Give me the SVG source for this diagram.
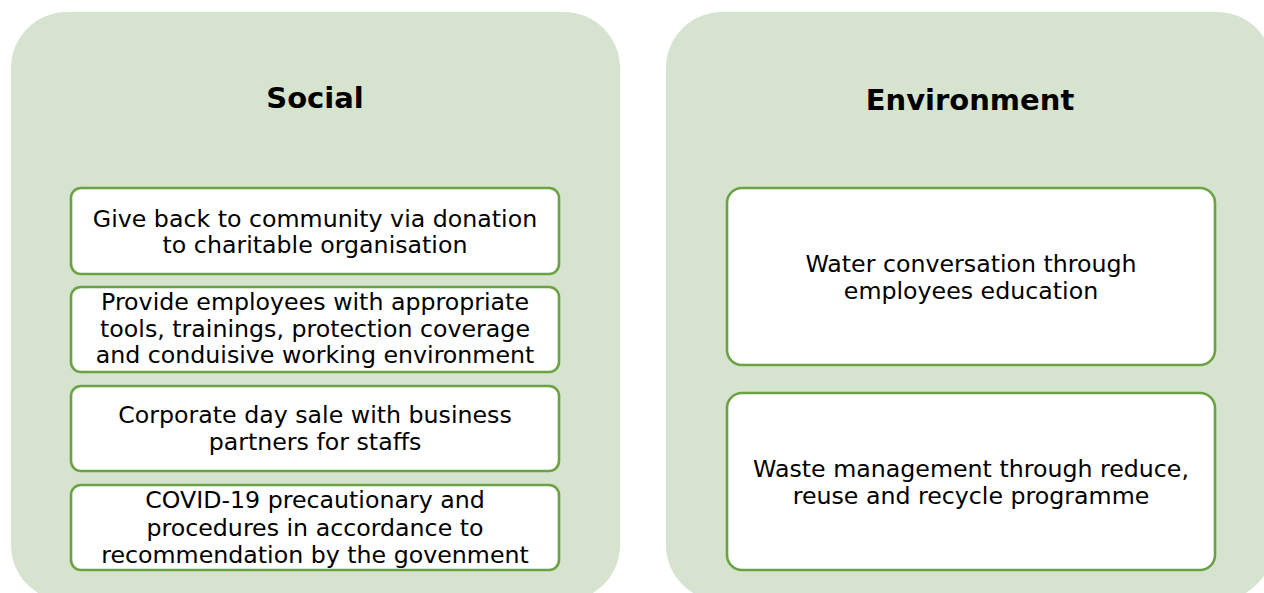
<svg xmlns="http://www.w3.org/2000/svg" width="1264" height="593" viewBox="0 0 1264 593">
  <style>
    .panel { fill: #d6e3cf; stroke: none; }
    .item { fill: #ffffff; stroke: #6aa244; stroke-width: 2.6; }
    .title { font-family: "DejaVu Sans", "Liberation Sans", sans-serif; font-weight: bold; font-size: 29px; fill: #000000; text-anchor: middle; }
    .label { font-family: "DejaVu Sans", "Liberation Sans", sans-serif; font-size: 23.7px; fill: #000000; text-anchor: middle; }
  </style>
  <rect width="1264" height="593" fill="#ffffff"/>

  <!-- Social column -->
  <g id="social">
    <rect class="panel" x="11" y="12" width="609" height="589" rx="56" ry="56"/>
    <text class="title" x="315" y="108">Social</text>
  </g>
  <g id="social-donation">
    <rect class="item" x="71" y="188" width="488" height="86" rx="10" ry="10"/>
    <text class="label" x="315" y="227">Give back to community via donation</text>
    <text class="label" x="315" y="253">to charitable organisation</text>
  </g>
  <g id="social-employees">
    <rect class="item" x="71" y="287" width="488" height="85" rx="10" ry="10"/>
    <text class="label" x="315" y="310">Provide employees with appropriate</text>
    <text class="label" x="315" y="337">tools, trainings, protection coverage</text>
    <text class="label" x="315" y="363">and conduisive working environment</text>
  </g>
  <g id="social-sale">
    <rect class="item" x="71" y="386" width="488" height="85" rx="10" ry="10"/>
    <text class="label" x="315" y="423">Corporate day sale with business</text>
    <text class="label" x="315" y="450">partners for staffs</text>
  </g>
  <g id="social-covid">
    <rect class="item" x="71" y="485" width="488" height="85" rx="10" ry="10"/>
    <text class="label" x="315" y="508">COVID-19 precautionary and</text>
    <text class="label" x="315" y="536">procedures in accordance to</text>
    <text class="label" x="315" y="563">recommendation by the govenment</text>
  </g>

  <!-- Environment column -->
  <g id="environment">
    <rect class="panel" x="666" y="12" width="607" height="589" rx="56" ry="56"/>
    <text class="title" x="970" y="110">Environment</text>
  </g>
  <g id="env-water">
    <rect class="item" x="727" y="188" width="488" height="177" rx="15" ry="15"/>
    <text class="label" x="971" y="272">Water conversation through</text>
    <text class="label" x="971" y="299">employees education</text>
  </g>
  <g id="env-waste">
    <rect class="item" x="727" y="393" width="488" height="177" rx="15" ry="15"/>
    <text class="label" x="971" y="477">Waste management through reduce,</text>
    <text class="label" x="971" y="504">reuse and recycle programme</text>
  </g>

  <!-- no connectors are drawn between the columns -->
  <g id="connectors"/>
</svg>
